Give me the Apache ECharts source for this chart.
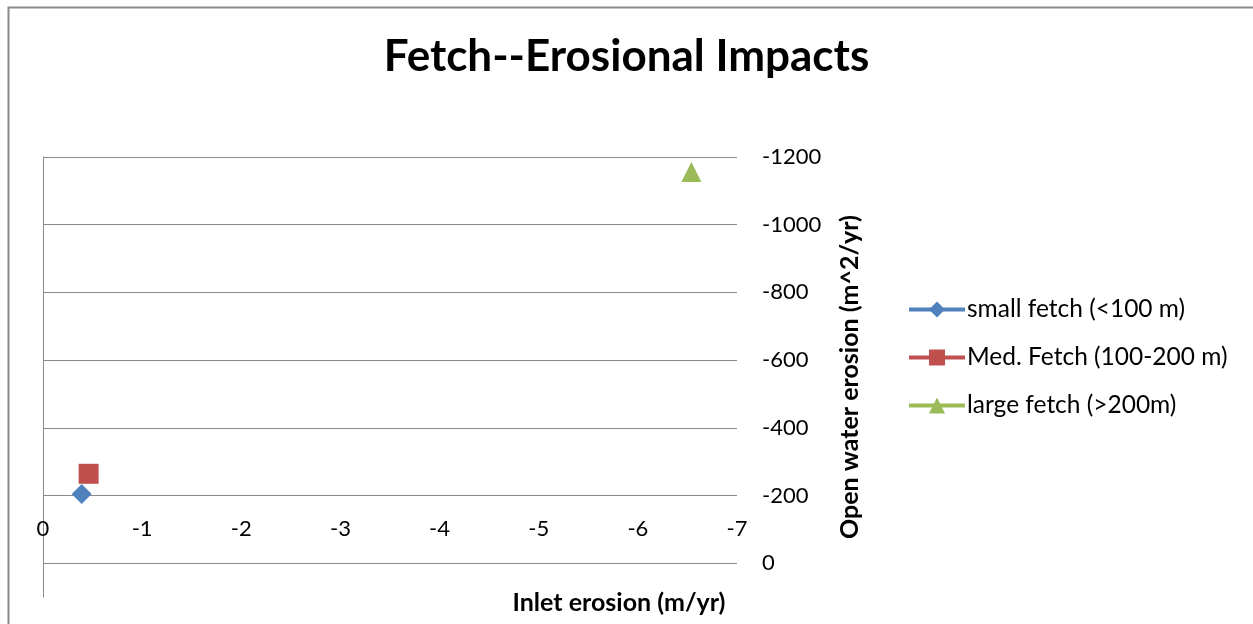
<!DOCTYPE html>
<html>
<head>
<meta charset="utf-8">
<script src="https://cdn.jsdelivr.net/npm/echarts@6/dist/echarts.min.js"></script>
<style>
  html, body { margin: 0; padding: 0; background: #fff; overflow: hidden; }
  #chart { width: 1253px; height: 624px; }
</style>
</head>
<body>
<div id="chart"></div>
<script>
// Series names and their single observations (inlet erosion, open water erosion)
const seriesNames = ['small fetch (<100 m)', 'Med. Fetch (100-200 m)', 'large fetch (>200m)'];
const inletErosion = [-0.39, -0.46, -6.54];          // m/yr
const openWaterErosion = [-204, -264, -1156];        // m^2/yr
const symbols = ['diamond', 'rect', 'triangle'];
const colors = ['#4F81BD', '#C0504D', '#9BBB59'];

const FONT = 'Lato';
const GRID_COLOR = '#8a8a8a';

const chart = echarts.init(document.getElementById('chart'));

const series = seriesNames.map((name, i) => ({
  name: name,
  type: 'line',
  xAxisIndex: 0,
  yAxisIndex: 0,
  data: [[inletErosion[i], openWaterErosion[i]]],
  symbol: symbols[i],
  symbolSize: 20,
  itemStyle: { color: colors[i] },
  lineStyle: { width: 4, color: colors[i] },
  animation: false
}));

chart.setOption({
  animation: false,
  color: colors,
  textStyle: { fontFamily: FONT },
  title: {
    text: 'Fetch--Erosional Impacts',
    left: 'center',
    top: 30,
    textStyle: { fontFamily: FONT, fontWeight: 'bold', fontSize: 44, color: '#000' }
  },
  legend: {
    orient: 'vertical',
    left: 907,
    top: 297,
    padding: 0,
    itemWidth: 56,
    itemHeight: 20,
    itemGap: 23,
    data: seriesNames,
    lineStyle: { width: 4 },
    textStyle: { fontFamily: FONT, fontSize: 24.5, color: '#000', padding: [0, 0, 0, -3] }
  },
  grid: { left: 43, right: 516, top: 157, bottom: 27, containLabel: false, outerBoundsMode: 'none' },
  xAxis: {
    type: 'value',
    min: -7,
    max: 0,
    interval: 1,
    inverse: true,
    position: 'bottom',
    axisLine: { show: false, onZero: false },
    axisTick: { show: false },
    splitLine: { show: false },
    axisLabel: { fontFamily: FONT, fontSize: 22, color: '#000', margin: -79 },
    name: 'Inlet erosion (m/yr)',
    nameLocation: 'middle',
    nameGap: -7,
    nameMoveOverlap: false,
    nameTextStyle: { fontFamily: FONT, fontSize: 25, fontWeight: 'bold', color: '#000', padding: [0, 0, 0, 458] }
  },
  yAxis: [
    {
      type: 'value',
      min: -1200,
      max: 100,
      interval: 200,
      inverse: true,
      position: 'right',
      axisLine: { show: false, onZero: false },
      axisTick: { show: false },
      splitLine: { show: true, showMaxLine: false, lineStyle: { color: GRID_COLOR, width: 1 } },
      axisLabel: {
        fontFamily: FONT, fontSize: 22, color: '#000', margin: 25, showMaxLabel: false,
        formatter: (v) => String(v)
      },
      name: 'Open water erosion (m^2/yr)',
      nameLocation: 'middle',
      nameRotate: 90,
      nameGap: 100,
      nameMoveOverlap: false,
      nameTextStyle: { fontFamily: FONT, fontSize: 25, fontWeight: 'bold', color: '#000' }
    },
    {
      // vertical axis line along the x = 0 edge
      type: 'value',
      min: -1200,
      max: 100,
      inverse: true,
      position: 'left',
      axisLine: { show: true, onZero: false, lineStyle: { color: GRID_COLOR, width: 1 } },
      axisTick: { show: false },
      axisLabel: { show: false },
      splitLine: { show: false }
    }
  ],
  graphic: [
    {
      type: 'rect',
      left: 6,
      top: 5,
      shape: { width: 1300, height: 700 },
      style: { fill: 'none', stroke: '#8a8a8a', lineWidth: 2 },
      silent: true,
      z: -1
    }
  ],
  series: series
});
</script>
</body>
</html>
